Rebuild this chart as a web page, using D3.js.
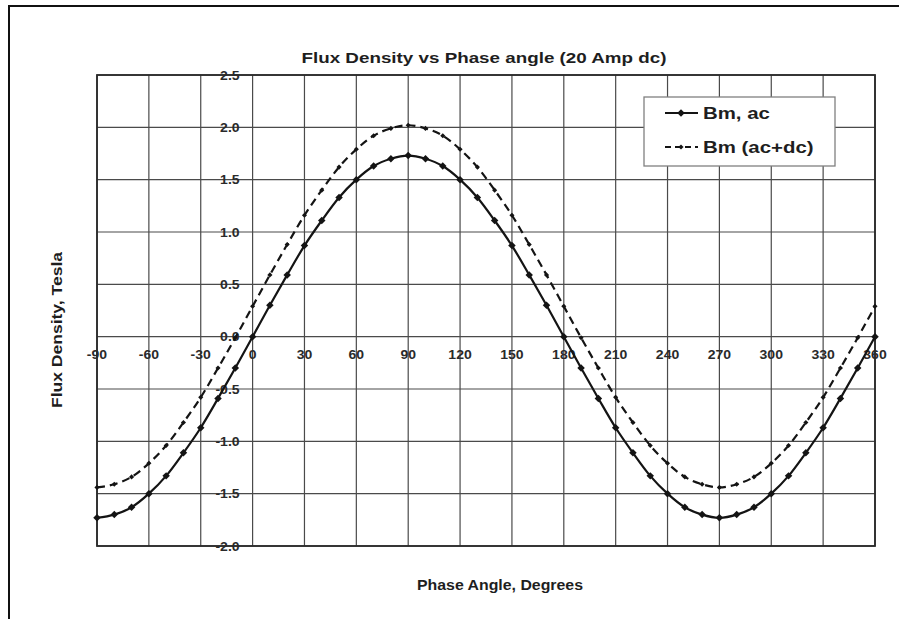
<!DOCTYPE html>
<html><head><meta charset="utf-8">
<script src="https://cdn.jsdelivr.net/npm/d3@7"></script>
<style>
html,body{margin:0;padding:0;background:#fff;}
svg{display:block;font-family:Arial,"Liberation Sans",sans-serif;font-weight:bold;}
</style></head><body>
<svg id="c" width="899" height="619"></svg>
<script>
const phase = [-90,-80,-70,-60,-50,-40,-30,-20,-10,0,10,20,30,40,50,60,70,80,90,100,110,120,130,140,150,160,170,180,190,200,210,220,230,240,250,260,270,280,290,300,310,320,330,340,350,360];
const bmAc = [-1.73,-1.70,-1.63,-1.50,-1.33,-1.11,-0.87,-0.59,-0.30,0.00,0.30,0.59,0.87,1.11,1.33,1.50,1.63,1.70,1.73,1.70,1.63,1.50,1.33,1.11,0.87,0.59,0.30,0.00,-0.30,-0.59,-0.87,-1.11,-1.33,-1.50,-1.63,-1.70,-1.73,-1.70,-1.63,-1.50,-1.33,-1.11,-0.87,-0.59,-0.30,0.00];
const bmAcDc = [-1.44,-1.41,-1.34,-1.21,-1.04,-0.82,-0.58,-0.30,-0.01,0.29,0.59,0.88,1.16,1.40,1.62,1.79,1.92,1.99,2.02,1.99,1.92,1.79,1.62,1.40,1.16,0.88,0.59,0.29,-0.01,-0.30,-0.58,-0.82,-1.04,-1.21,-1.34,-1.41,-1.44,-1.41,-1.34,-1.21,-1.04,-0.82,-0.58,-0.30,-0.01,0.29];
const xTicks = [-90,-60,-30,0,30,60,90,120,150,180,210,240,270,300,330,360];
const yTicks = [-2.0,-1.5,-1.0,-0.5,0.0,0.5,1.0,1.5,2.0,2.5];
const seriesNames = ["Bm, ac","Bm (ac+dc)"];
const titleText = "Flux Density vs Phase angle (20 Amp dc)";
const xTitle = "Phase Angle, Degrees";
const yTitle = "Flux Density, Tesla";

const svg = d3.select("#c");
const L=97, R=875, T=75, B=546;
const x = d3.scaleLinear().domain([-90,360]).range([L,R]);
const y = d3.scaleLinear().domain([-2.0,2.5]).range([B,T]);
const ink = "#141414";

// outer frame
svg.append("line").attr("x1",8).attr("x2",899).attr("y1",6).attr("y2",6).attr("stroke","#111").attr("stroke-width",2);
svg.append("line").attr("x1",9).attr("x2",9).attr("y1",5).attr("y2",619).attr("stroke","#111").attr("stroke-width",2);

svg.append("rect").attr("x",L).attr("y",T).attr("width",R-L).attr("height",B-T).attr("fill","#fff");

// grid
const g = svg.append("g");
g.selectAll("line.v").data(xTicks).join("line")
  .attr("x1",d=>x(d)).attr("x2",d=>x(d)).attr("y1",T).attr("y2",B)
  .attr("stroke","#4a4a4a").attr("stroke-width",1.2);
g.selectAll("line.h").data(yTicks).join("line")
  .attr("x1",L).attr("x2",R).attr("y1",d=>y(d)).attr("y2",d=>y(d))
  .attr("stroke","#4a4a4a").attr("stroke-width",1.2);
svg.append("rect").attr("x",L).attr("y",T).attr("width",R-L).attr("height",B-T)
  .attr("fill","none").attr("stroke","#2a2a2a").attr("stroke-width",1.8);

function stretch(sel, k){
  sel.each(function(){
    const w = this.getComputedTextLength();
    d3.select(this).attr("textLength", w*k).attr("lengthAdjust","spacingAndGlyphs");
  });
}

const xl = svg.append("g").selectAll("text").data(xTicks).join("text")
  .attr("x",d=>x(d)).attr("y",y(0)+22).attr("text-anchor","middle")
  .attr("font-size",12.5).attr("fill","#2a2a2a").text(d=>d);
stretch(xl,1.12);
const yl = svg.append("g").selectAll("text").data(yTicks).join("text")
  .attr("x",x(0)-13).attr("y",d=>y(d)+4.5).attr("text-anchor","end")
  .attr("font-size",12.5).attr("fill","#2a2a2a").text(d=>d.toFixed(1));
stretch(yl,1.12);

const pts1 = phase.map((p,i)=>[p,bmAc[i]]);
const pts2 = phase.map((p,i)=>[p,bmAcDc[i]]);
const line = d3.line().x(d=>x(d[0])).y(d=>y(d[1])).curve(d3.curveMonotoneX);
svg.append("path").attr("d",line(pts2)).attr("fill","none").attr("stroke",ink).attr("stroke-width",2.2).attr("stroke-dasharray","8,5");
svg.append("path").attr("d",line(pts1)).attr("fill","none").attr("stroke",ink).attr("stroke-width",2.2);

const big = d3.symbol().type(d3.symbolSquare).size(28);
const small = d3.symbol().type(d3.symbolSquare).size(13);
svg.append("g").selectAll("path").data(pts2).join("path")
  .attr("transform",d=>`translate(${x(d[0])},${y(d[1])}) rotate(45)`).attr("d",small).attr("fill",ink);
svg.append("g").selectAll("path").data(pts1).join("path")
  .attr("transform",d=>`translate(${x(d[0])},${y(d[1])}) rotate(45)`).attr("d",big).attr("fill",ink);

// legend
svg.append("rect").attr("x",644).attr("y",97).attr("width",191).attr("height",69)
  .attr("fill","#fff").attr("stroke","#808080").attr("stroke-width",1.3);
const leg = [{y:113, dash:null, sym:big},{y:147, dash:"6,4", sym:small}];
leg.forEach((e,i)=>{
  svg.append("line").attr("x1",665).attr("x2",698).attr("y1",e.y).attr("y2",e.y)
    .attr("stroke",ink).attr("stroke-width",2.2).attr("stroke-dasharray",e.dash);
  svg.append("path").attr("transform",`translate(681,${e.y}) rotate(45)`).attr("d",e.sym).attr("fill",ink);
  const t = svg.append("text").attr("x",703).attr("y",e.y+6).attr("font-size",17).attr("fill","#1e1e1e").text(seriesNames[i]);
  stretch(t,1.2);
});

const tt = svg.append("text").attr("x",484).attr("y",63).attr("text-anchor","middle").attr("font-size",15).attr("fill","#1e1e1e").text(titleText);
tt.attr("textLength",365).attr("lengthAdjust","spacingAndGlyphs");
const xt = svg.append("text").attr("x",500).attr("y",590).attr("text-anchor","middle").attr("font-size",14).attr("fill","#1e1e1e").text(xTitle);
xt.attr("textLength",166).attr("lengthAdjust","spacingAndGlyphs");
const yt = svg.append("text").attr("transform","translate(62,330) rotate(-90)").attr("text-anchor","middle").attr("font-size",14).attr("fill","#1e1e1e").text(yTitle);
yt.attr("textLength",156).attr("lengthAdjust","spacingAndGlyphs");
</script>
</body></html>
